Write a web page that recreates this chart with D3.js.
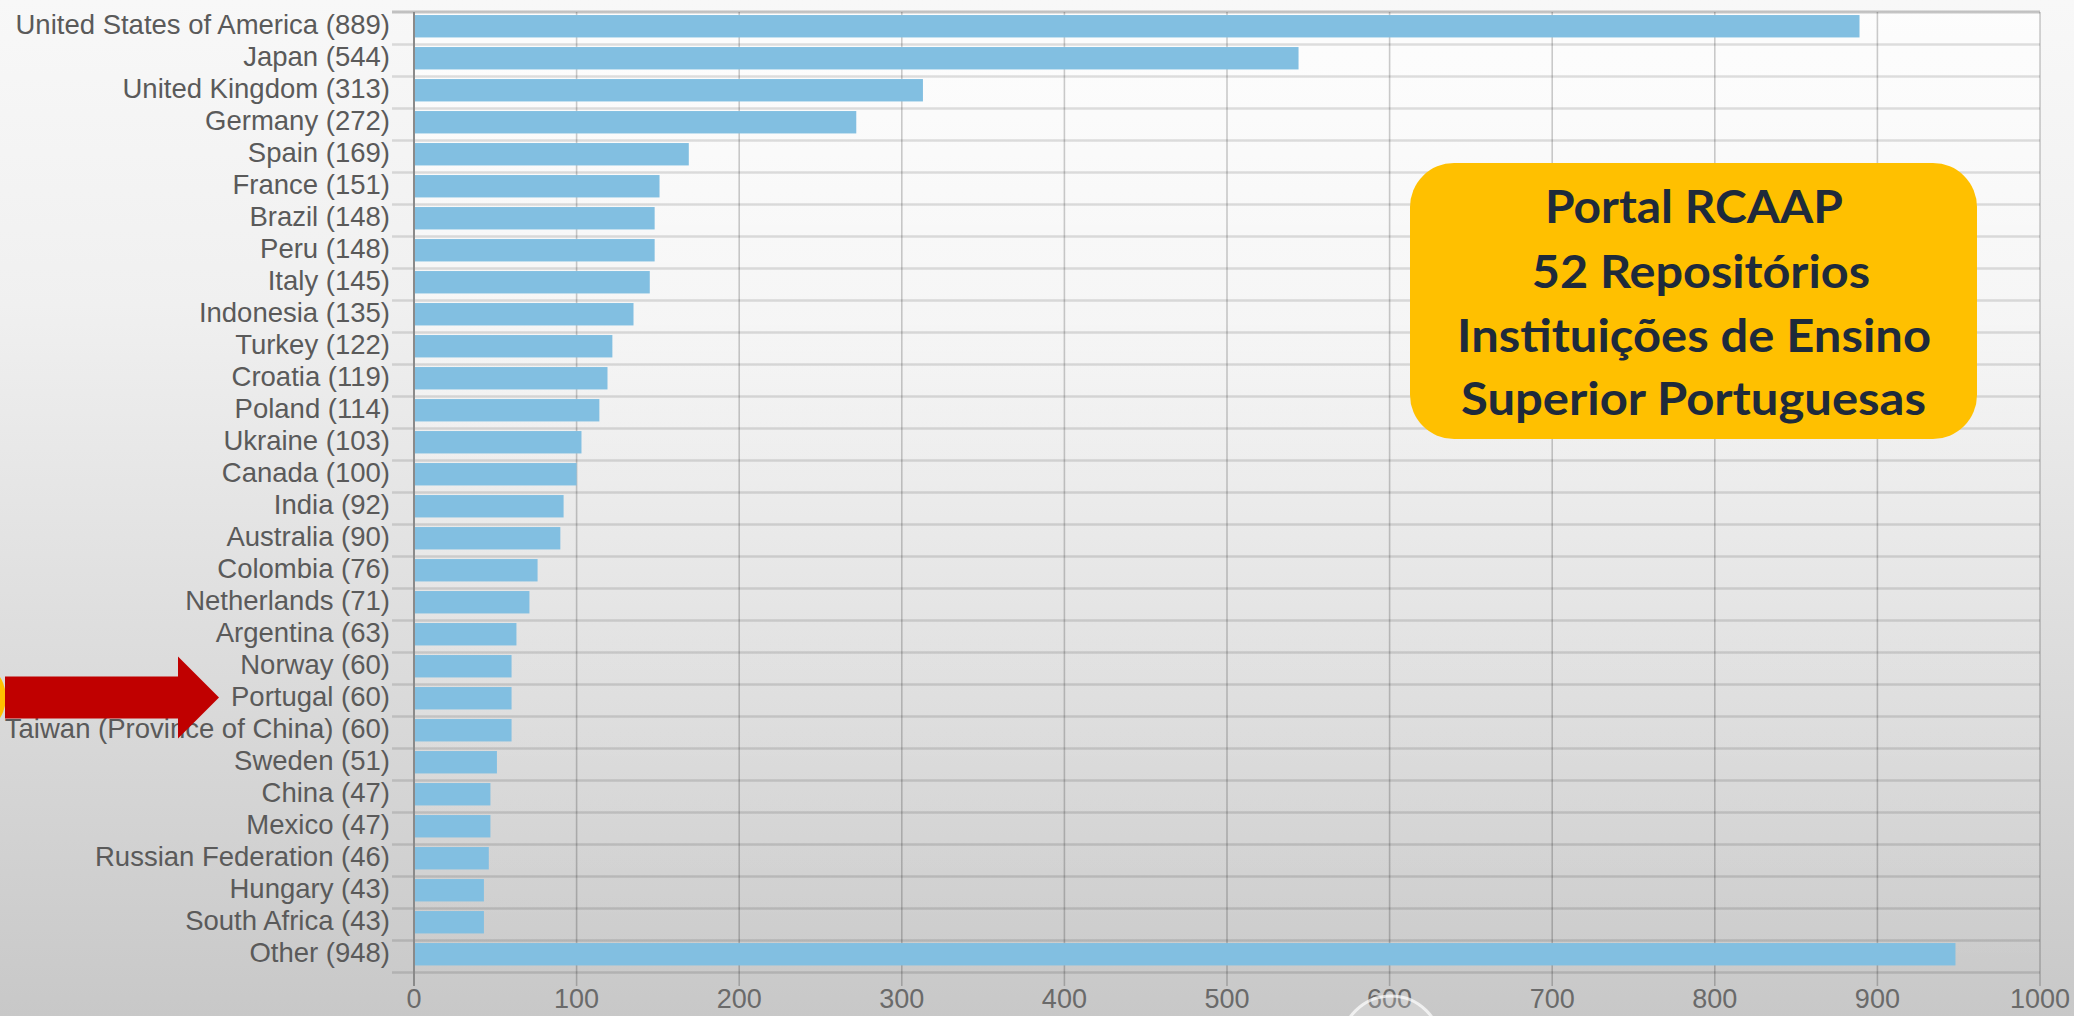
<!DOCTYPE html>
<html>
<head>
<meta charset="utf-8">
<script src="https://cdn.jsdelivr.net/npm/d3@7"></script>
<style>
  html, body { margin: 0; padding: 0; overflow: hidden; background: #e6e6e6; }
  svg { display: block; }
</style>
</head>
<body>
<svg id="chart" width="2074" height="1016"></svg>
<script>
// ---- data ----
const countries = [
  "United States of America", "Japan", "United Kingdom", "Germany", "Spain",
  "France", "Brazil", "Peru", "Italy", "Indonesia", "Turkey", "Croatia",
  "Poland", "Ukraine", "Canada", "India", "Australia", "Colombia",
  "Netherlands", "Argentina", "Norway", "Portugal", "Taiwan (Province of China)",
  "Sweden", "China", "Mexico", "Russian Federation", "Hungary", "South Africa", "Other"
];
const values = [
  889, 544, 313, 272, 169, 151, 148, 148, 145, 135, 122, 119,
  114, 103, 100, 92, 90, 76, 71, 63, 60, 60, 60,
  51, 47, 47, 46, 43, 43, 948
];
const xTicks = [0, 100, 200, 300, 400, 500, 600, 700, 800, 900, 1000];
const noteLines = ["Portal RCAAP", " 52 Repositórios", "Instituições de Ensino", "Superior Portuguesas"];

// ---- layout ----
const W = 2074, H = 1016;
const plot = { left: 414, right: 2040, top: 12, bottom: 972 };
const svg = d3.select("#chart");

// background
const defs = svg.append("defs");
const bg = defs.append("linearGradient").attr("id", "bg").attr("x1", 0).attr("y1", 0).attr("x2", 0).attr("y2", 1);
bg.append("stop").attr("offset", 0).attr("stop-color", "#f8f8f8");
bg.append("stop").attr("offset", 0.3).attr("stop-color", "#f0f0f0");
bg.append("stop").attr("offset", 0.65).attr("stop-color", "#dcdcdc");
bg.append("stop").attr("offset", 1).attr("stop-color", "#c8c8c8");
svg.append("rect").attr("width", W).attr("height", H).attr("fill", "url(#bg)");

const pg = defs.append("linearGradient").attr("id", "pg").attr("x1", 0).attr("y1", 0).attr("x2", 0).attr("y2", 1);
pg.append("stop").attr("offset", 0).attr("stop-color", "#ffffff").attr("stop-opacity", 0.7);
pg.append("stop").attr("offset", 0.5).attr("stop-color", "#ffffff").attr("stop-opacity", 0.25);
pg.append("stop").attr("offset", 1).attr("stop-color", "#ffffff").attr("stop-opacity", 0.0);
svg.append("rect").attr("x", plot.left).attr("y", plot.top)
  .attr("width", plot.right - plot.left).attr("height", plot.bottom - plot.top)
  .attr("fill", "url(#pg)");

// scales
const x = d3.scaleLinear().domain([0, 1000]).range([plot.left, plot.right]);
const y = d3.scaleBand().domain(countries).range([plot.top, plot.bottom]).paddingInner(0).paddingOuter(0);
const bw = y.bandwidth();

// horizontal grid lines at band boundaries (with tick stubs left of axis)
const boundaries = countries.map(c => y(c)).concat([plot.bottom]);
svg.append("g").selectAll("line").data(boundaries.slice(1)).join("line")
  .attr("x1", plot.left - 22).attr("x2", plot.right)
  .attr("y1", d => d + 0.5).attr("y2", d => d + 0.5)
  .attr("stroke", "rgba(0,0,0,0.12)").attr("stroke-width", 2.5);

// vertical grid lines
svg.append("g").selectAll("line").data(xTicks).join("line")
  .attr("x1", d => x(d)).attr("x2", d => x(d))
  .attr("y1", plot.top).attr("y2", plot.bottom + 14)
  .attr("stroke", "rgba(0,0,0,0.2)").attr("stroke-width", 1.6);

// top border
svg.append("line").attr("x1", plot.left - 22).attr("x2", plot.right)
  .attr("y1", plot.top).attr("y2", plot.top)
  .attr("stroke", "rgba(0,0,0,0.22)").attr("stroke-width", 3);

// bars
svg.append("g").selectAll("rect").data(countries).join("rect")
  .attr("x", x(0))
  .attr("y", c => y(c) + bw * 0.095)
  .attr("width", (c, i) => x(values[i]) - x(0))
  .attr("height", bw * 0.7)
  .attr("fill", "#82bfe1");

// y axis line
svg.append("line").attr("x1", plot.left).attr("x2", plot.left)
  .attr("y1", plot.top).attr("y2", plot.bottom + 14)
  .attr("stroke", "#8a8a8a").attr("stroke-width", 2);

// category labels
svg.append("g").selectAll("text").data(countries).join("text")
  .attr("x", plot.left - 24)
  .attr("y", c => y(c) + bw * 0.69)
  .attr("text-anchor", "end")
  .attr("font-family", "Liberation Sans, Arial, sans-serif")
  .attr("font-size", 27.5)
  .attr("fill", "#5a5a5a")
  .text((c, i) => `${c} (${values[i]})`);

// x tick labels
svg.append("g").selectAll("text").data(xTicks).join("text")
  .attr("x", d => x(d))
  .attr("y", 1008)
  .attr("text-anchor", "middle")
  .attr("font-family", "Liberation Sans, Arial, sans-serif")
  .attr("font-size", 27)
  .attr("fill", "#6a6a6a")
  .text(d => d);

// faint player circle overlay near bottom
svg.append("circle").attr("cx", 1391).attr("cy", 1046).attr("r", 50)
  .attr("fill", "rgba(255,255,255,0.18)").attr("stroke", "rgba(255,255,255,0.7)").attr("stroke-width", 3);

// annotation box
const note = svg.append("g");
note.append("rect").attr("x", 1410).attr("y", 163).attr("width", 567).attr("height", 276)
  .attr("rx", 44).attr("ry", 44).attr("fill", "#ffc000");
const noteX = [1545, 1532, 1457, 1461];
const noteW = [298, 338, 474, 465];
const noteY = [223, 288, 352, 415];
note.selectAll("text").data(noteLines).join("text")
  .attr("x", (d, i) => noteX[i])
  .attr("y", (d, i) => noteY[i])
  .attr("font-family", "Lato, 'Noto Sans', sans-serif")
  .attr("font-weight", 700)
  .attr("font-size", 45)
  .attr("fill", "#1e2a3b")
  .attr("xml:space", "preserve")
  .attr("textLength", (d, i) => d.startsWith(" ") ? noteW[i] + 12 : noteW[i])
  .attr("lengthAdjust", "spacingAndGlyphs")
  .attr("dx", (d, i) => d.startsWith(" ") ? -12 : 0)
  .text(d => d);

// red arrow pointing to Portugal
const py = y("Portugal");
const cy = py + bw * 0.42;
svg.append("circle").attr("cx", -32).attr("cy", cy).attr("r", 38).attr("fill", "#ffc000");
const arrowPts = [
  [5, cy - 21], [178, cy - 21], [178, cy - 41], [219, cy],
  [178, cy + 41], [178, cy + 21], [5, cy + 21]
];
svg.append("path").attr("d", d3.line()(arrowPts) + "Z").attr("fill", "#c00000");
</script>
</body>
</html>
